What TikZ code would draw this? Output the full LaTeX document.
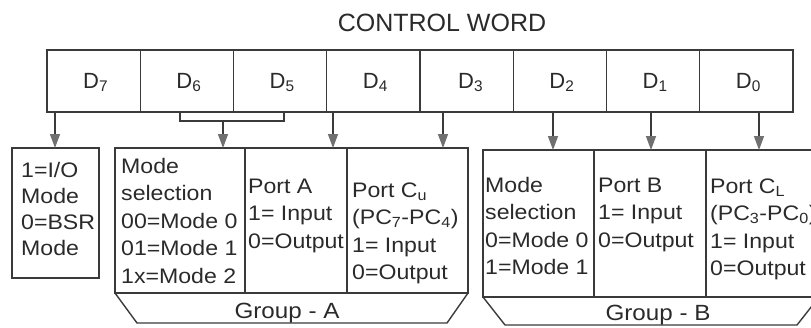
\documentclass[tikz,border=0pt]{standalone}
\usepackage{fontspec}
\setmainfont{Liberation Sans}
\newfontfamily\bodyf[FakeStretch=1.1]{Liberation Sans}
\newfontfamily\plainf{Liberation Sans}
\usetikzlibrary{arrows.meta,calc}
\definecolor{linec}{HTML}{3A3A3A}
\definecolor{tipc}{HTML}{707070}
\definecolor{txtc}{HTML}{2A2A2A}
\begin{document}
\begin{tikzpicture}[x=1pt,y=-1pt,
  box/.style={draw=linec, line width=1.4pt, inner sep=0pt, outer sep=0pt, anchor=north west},
  cell/.style={box, minimum width=93.25pt, minimum height=62pt},
  line/.style={draw=linec, line width=1.4pt},
  arr/.style={line, -{Triangle[width=10pt,length=14pt,fill=tipc,color=tipc]}},
  txt/.style={inner sep=0pt, anchor=north west, align=left, text=txtc, font=\bodyf\fontsize{21}{27.5}\selectfont},
  dlab/.style={inner sep=0pt, anchor=base, text=txtc, font=\plainf\fontsize{22}{24}\selectfont},
  ttl/.style={inner sep=0pt, anchor=base, text=txtc, font=\plainf\fontsize{25}{28}\selectfont},
  glab/.style={inner sep=0pt, anchor=base, text=txtc, font=\bodyf\fontsize{22}{24}\selectfont},
]
\useasboundingbox (0,0) rectangle (811,327);
\clip (0,0) rectangle (811,327);

\node[ttl] (title) at (442,31) {CONTROL WORD};

% control word cells
\node[cell] (d7) at (47,50) {};
\node[cell] (d6) at (140.25,50) {};
\node[cell] (d5) at (233.5,50) {};
\node[cell] (d4) at (326.75,50) {};
\node[cell] (d3) at (420,50) {};
\node[cell] (d2) at (513.25,50) {};
\node[cell] (d1) at (606.5,50) {};
\node[cell] (d0) at (699.75,50) {};
\node[dlab] (l7) at ($(d7.center)+(2,7)$) {D\textsubscript{7}};
\node[dlab] (l6) at ($(d6.center)+(2,7)$) {D\textsubscript{6}};
\node[dlab] (l5) at ($(d5.center)+(2,7)$) {D\textsubscript{5}};
\node[dlab] (l4) at ($(d4.center)+(2,7)$) {D\textsubscript{4}};
\node[dlab] (l3) at ($(d3.center)+(4,7)$) {D\textsubscript{3}};
\node[dlab] (l2) at ($(d2.center)+(2,7)$) {D\textsubscript{2}};
\node[dlab] (l1) at ($(d1.center)+(2,7)$) {D\textsubscript{1}};
\node[dlab] (l0) at ($(d0.center)+(2,7)$) {D\textsubscript{0}};

% lower boxes
\node[box, minimum width=87pt, minimum height=130pt] (io) at (12,148) {};
\node[box, minimum width=130pt, minimum height=145pt] (ga1) at (115,148) {};
\node[box, minimum width=102pt, minimum height=145pt] (ga2) at (245,148) {};
\node[box, minimum width=121pt, minimum height=145pt] (ga3) at (347,148) {};
\node[box, minimum width=111pt, minimum height=147pt] (gb1) at (483,150) {};
\node[box, minimum width=112pt, minimum height=147pt] (gb2) at (594,150) {};
\node[box, minimum width=113pt, minimum height=147pt] (gb3) at (706,150) {};

% group trapezoids
\draw[line] (ga1.south west) -- ($(ga1.south west)+(22,30)$) -- ($(ga3.south east)+(-21,30)$) -- (ga3.south east);
\draw[line] (gb1.south west) -- ($(gb1.south west)+(22,28)$) -- ($(gb3.south east)+(-22,28)$) -- (gb3.south east);
\node[glab] (gla) at (287,318) {Group - A};
\node[glab] (glb) at (658,320) {Group - B};

% texts
\node[txt, font=\bodyf\fontsize{21}{26}\selectfont] (tio) at (21,161) {\rule{0pt}{16pt}1=I/O\\Mode\\0=BSR\\Mode};
\node[txt] (ta1) at (121,157) {\rule{0pt}{16pt}Mode\\selection\\00=Mode 0\\01=Mode 1\\1x=Mode 2};
\node[txt] (ta2) at (248,177) {\rule{0pt}{16pt}Port A\\1= Input\\0=Output};
\node[txt] (ta3) at (352,181) {\rule{0pt}{16pt}Port C\textsubscript{u}\\(PC\textsubscript{7}-PC\textsubscript{4})\\1= Input\\0=Output};
\node[txt] (tb1) at (485,176) {\rule{0pt}{16pt}Mode\\selection\\0=Mode 0\\1=Mode 1};
\node[txt] (tb2) at (598,176) {\rule{0pt}{16pt}Port B\\1= Input\\0=Output};
\node[txt] (tb3) at (710,177) {\rule{0pt}{16pt}Port C\textsubscript{L}\\(PC\textsubscript{3}-PC\textsubscript{0})\\1= Input\\0=Output};

% connectors
\draw[arr] (d7.south -| 55,0) -- (io.north -| 55,0);
\draw[line] (d6.south -| 180,0) -- (180,121) -- (284,121) -- (d5.south -| 284,0);
\coordinate (br) at (223,121);
\draw[arr] (br) -- (ga1.north -| br);
\draw[arr] (d4.south -| 333,0) -- (ga2.north -| 333,0);
\draw[arr] (d3.south -| 443,0) -- (ga3.north -| 443,0);
\draw[arr] (d2.south -| 553,0) -- (gb1.north -| 553,0);
\draw[arr] (d1.south -| 651,0) -- (gb2.north -| 651,0);
\draw[arr] (d0.south -| 759,0) -- (gb3.north -| 759,0);
\end{tikzpicture}
\end{document}
